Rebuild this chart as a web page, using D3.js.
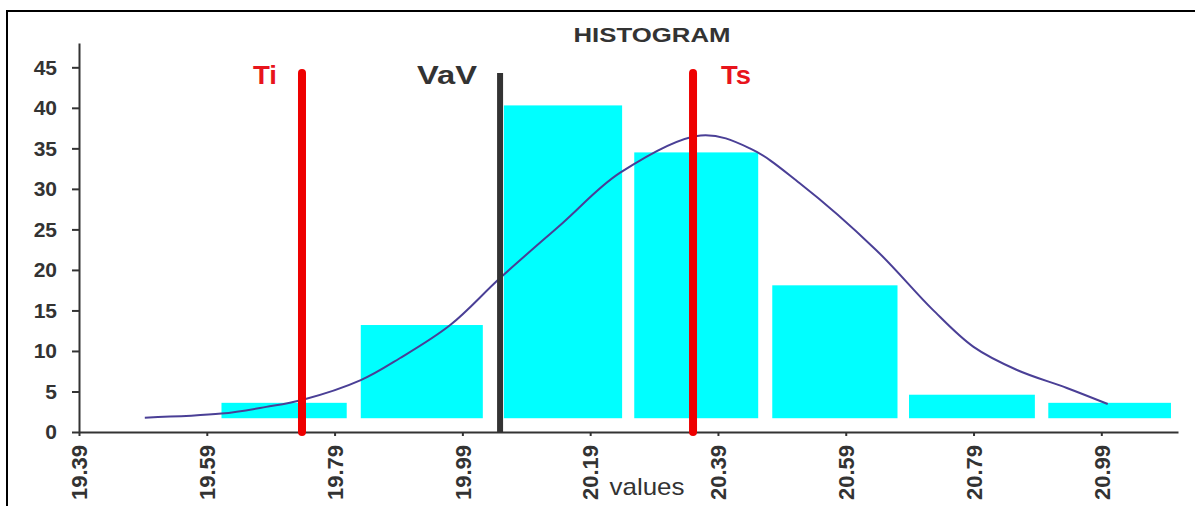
<!DOCTYPE html>
<html>
<head>
<meta charset="utf-8">
<script src="https://cdn.jsdelivr.net/npm/d3@7"></script>
<style>
  html, body { margin: 0; padding: 0; background: #fff; }
  svg { display: block; font-family: "Liberation Sans", Arial, sans-serif; }
</style>
</head>
<body>
<svg id="chart" width="1195" height="506"></svg>
<script>
// ---- data ----
const xTickValues = [19.39, 19.59, 19.79, 19.99, 20.19, 20.39, 20.59, 20.79, 20.99];
const yTickValues = [0, 5, 10, 15, 20, 25, 30, 35, 40, 45];
const binStart = [19.613, 19.831, 20.055, 20.259, 20.475, 20.689, 20.907];
const binEnd   = [19.809, 20.022, 20.240, 20.453, 20.671, 20.886, 21.099];
const binCount = [3.6, 13.2, 40.3, 34.5, 18.1, 4.6, 3.6];
const barBase = 1.7;
const curveX = [19.493, 19.613, 19.683, 19.739, 19.831, 19.892, 19.971, 20.049, 20.147, 20.237, 20.363, 20.44, 20.518, 20.637, 20.726, 20.79, 20.858, 20.936, 21.0];
const curveY = [1.77, 2.27, 3.1, 3.95, 6.4, 9.1, 13.2, 19.0, 25.8, 32.0, 36.6, 35.0, 30.7, 22.5, 15.1, 10.5, 7.65, 5.43, 3.45];
const markerNames  = ["Ti", "VaV", "Ts"];
const markerValues = [19.739, 20.049, 20.351];
const markerTop = 44.3;
const titleText = "HISTOGRAM";
const xLabelText = "values";

// ---- layout ----
const svg = d3.select("#chart");
const x = d3.scaleLinear().domain([19.39, 21.11]).range([79, 1178]);
const y = d3.scaleLinear().domain([0, 48]).range([432, 43]);

// frame
svg.append("rect").attr("x", 7).attr("y", 11).attr("width", 1200).attr("height", 510)
  .attr("fill", "none").attr("stroke", "#000").attr("stroke-width", 2);

// bars
svg.append("g").selectAll("rect").data(binCount).join("rect")
  .attr("x", (d, i) => x(binStart[i]))
  .attr("width", (d, i) => x(binEnd[i]) - x(binStart[i]))
  .attr("y", d => y(d))
  .attr("height", d => y(barBase) - y(d))
  .attr("fill", "#00ffff");

// curve
const pts = curveX.map((v, i) => [v, curveY[i]]);
svg.append("path").datum(pts)
  .attr("d", d3.line().x(d => x(d[0])).y(d => y(d[1])).curve(d3.curveCatmullRom.alpha(0.5)))
  .attr("fill", "none").attr("stroke", "#4a3f96").attr("stroke-width", 2);

// axes
const yAxis = svg.append("g").attr("transform", `translate(${x(19.39)},0)`)
  .call(d3.axisLeft(y).tickValues(yTickValues).tickSize(7).tickPadding(15).tickSizeOuter(0));
yAxis.select(".domain").attr("stroke", "#333").attr("stroke-width", 2);
yAxis.selectAll(".tick line").attr("stroke", "#333").attr("stroke-width", 2);
yAxis.selectAll(".tick text").attr("fill", "#333").style("font-size", "21px").style("font-weight", "bold");

const xAxis = svg.append("g").attr("transform", `translate(0,${y(0)})`)
  .call(d3.axisBottom(x).tickValues(xTickValues).tickFormat(d3.format(".2f")).tickSize(4).tickSizeOuter(0));
xAxis.select(".domain").attr("stroke", "#333").attr("stroke-width", 2);
xAxis.selectAll(".tick line").attr("stroke", "#333").attr("stroke-width", 2);
xAxis.selectAll(".tick text")
  .attr("transform", "rotate(-90)")
  .attr("text-anchor", "end")
  .attr("x", -13).attr("y", 0).attr("dy", "0.35em")
  .attr("fill", "#333").style("font-size", "22px").style("font-weight", "bold");

// marker lines
const markerColors = ["#ee0000", "#333333", "#ee0000"];
const markerWidths = [8, 6, 8];
svg.append("g").selectAll("line").data(markerValues).join("line")
  .attr("x1", d => x(d)).attr("x2", d => x(d))
  .attr("y1", y(markerTop)).attr("y2", y(0))
  .attr("stroke", (d, i) => markerColors[i])
  .attr("stroke-width", (d, i) => markerWidths[i])
  .attr("stroke-linecap", (d, i) => i === 1 ? "butt" : "round");

// marker labels
const labelOffsets = [-25, -23, 28];
const labelAnchors = ["end", "end", "start"];
const labelColors = ["#e8141c", "#333333", "#e8141c"];
const labelWidths = [24, 60, 30];
svg.append("g").selectAll("text").data(markerNames).join("text")
  .attr("x", (d, i) => x(markerValues[i]) + labelOffsets[i])
  .attr("y", 84)
  .attr("text-anchor", (d, i) => labelAnchors[i])
  .attr("fill", (d, i) => labelColors[i])
  .attr("textLength", (d, i) => labelWidths[i])
  .attr("lengthAdjust", "spacingAndGlyphs")
  .style("font-size", "25px")
  .style("font-weight", "bold")
  .text(d => d);

// title
svg.append("text").attr("x", 652).attr("y", 42).attr("text-anchor", "middle")
  .attr("textLength", 157).attr("lengthAdjust", "spacingAndGlyphs")
  .attr("fill", "#333").style("font-size", "21px").style("font-weight", "bold").text(titleText);

// x label
svg.append("text").attr("x", 647).attr("y", 495).attr("text-anchor", "middle")
  .attr("textLength", 75).attr("lengthAdjust", "spacingAndGlyphs")
  .attr("fill", "#333").style("font-size", "24px").text(xLabelText);
</script>
</body>
</html>
